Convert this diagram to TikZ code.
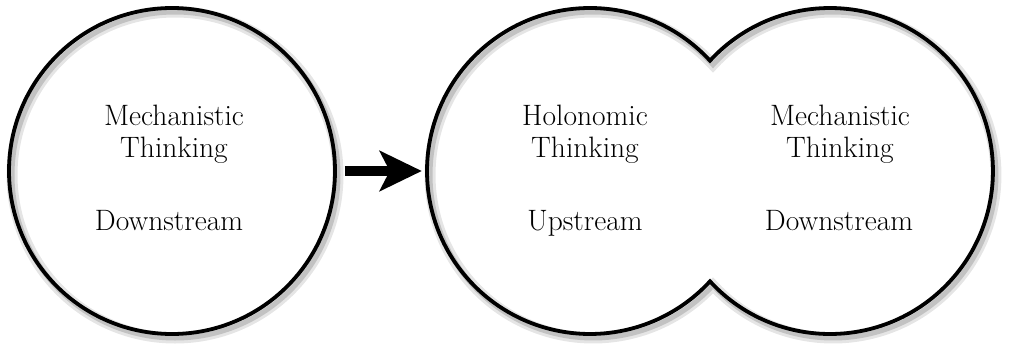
\documentclass[tikz,border=0pt]{standalone}
\usetikzlibrary{arrows.meta,calc}
\tikzset{
  rim/.style={line width=3.8pt,
    preaction={draw=black!10, line width=11pt, transform canvas={shift={(3pt,-4pt)}}},
    preaction={draw=black!24, line width=5pt, transform canvas={shift={(3pt,-4pt)}}}},
  bubble/.style={circle, minimum size=326pt, inner sep=0pt},
  lbl/.style={font=\fontsize{29.5}{32}\selectfont, inner sep=0pt, anchor=base},
  push/.style={line width=10pt, -{Stealth[length=42pt,width=40pt,inset=10pt]}}
}
\begin{document}
\begin{tikzpicture}[x=1pt,y=1pt]
  \useasboundingbox (0,0) rectangle (1011,349);
  % old way: one circle
  \node[bubble, draw, rim] (mech) at (172,178) {};
  % new way: two merged circles
  \node[bubble] (holo) at (590,178) {};
  \node[bubble] (down) at (830,178) {};
  \coordinate (ntop) at ($(holo.center)+(42.6:163)$);
  \draw[rim] (ntop) arc[start angle=42.6, end angle=317.4, radius=163]
    arc[start angle=222.6, end angle=497.4, radius=163] -- cycle;
  \draw[push] ([xshift=8]mech.east) -- ([xshift=-5]holo.west);
  % labels
  \node[lbl] (mechA) at ($(mech.center)+(2,46)$) {Mechanistic};
  \node[lbl] (mechB) at ($(mech.center)+(2,14)$) {Thinking};
  \node[lbl] (mechC) at ($(mech.center)+(-3,-59)$) {Downstream};
  \node[lbl] (holoA) at ($(holo.center)+(-5,46)$) {Holonomic};
  \node[lbl] (holoB) at ($(holo.center)+(-5,14)$) {Thinking};
  \node[lbl] (holoC) at ($(holo.center)+(-5,-59)$) {Upstream};
  \node[lbl] (downA) at ($(down.center)+(10,46)$) {Mechanistic};
  \node[lbl] (downB) at ($(down.center)+(10,14)$) {Thinking};
  \node[lbl] (downC) at ($(down.center)+(9,-59)$) {Downstream};
\end{tikzpicture}
\end{document}
